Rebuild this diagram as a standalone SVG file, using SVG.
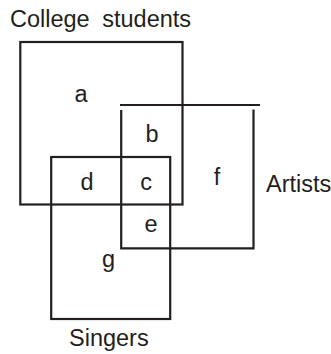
<svg xmlns="http://www.w3.org/2000/svg" width="331" height="354" viewBox="0 0 331 354">
<style>
.s{fill:none;stroke:#231f20;stroke-width:2.2}
.t{font-family:"Liberation Sans",Arial,sans-serif;font-size:23.5px;fill:#231f20}
.m{text-anchor:middle}
</style>
<rect width="331" height="354" fill="#fff"/>
<g id="college">
<rect class="s" x="20.3" y="42" width="162.2" height="162.5"/>
<text class="t" x="10" y="26.5" word-spacing="6">College students</text>
<text class="t m" x="81" y="102">a</text>
</g>
<g id="artists">
<line class="s" x1="120" y1="105" x2="260" y2="105"/>
<polyline class="s" points="121.2,110 121.2,248.3 253.5,248.3 253.5,109.5"/>
<text class="t" x="266" y="192">Artists</text>
<text class="t m" x="152" y="142">b</text>
<text class="t m" x="217" y="185">f</text>
</g>
<g id="singers">
<rect class="s" x="51.2" y="157" width="119" height="162"/>
<text class="t" x="69" y="346">Singers</text>
<text class="t m" x="87" y="190">d</text>
<text class="t m" x="146" y="190">c</text>
<text class="t m" x="151" y="231.5">e</text>
<text class="t m" x="108.5" y="267">g</text>
</g>
<g id="connectors"/>
</svg>
